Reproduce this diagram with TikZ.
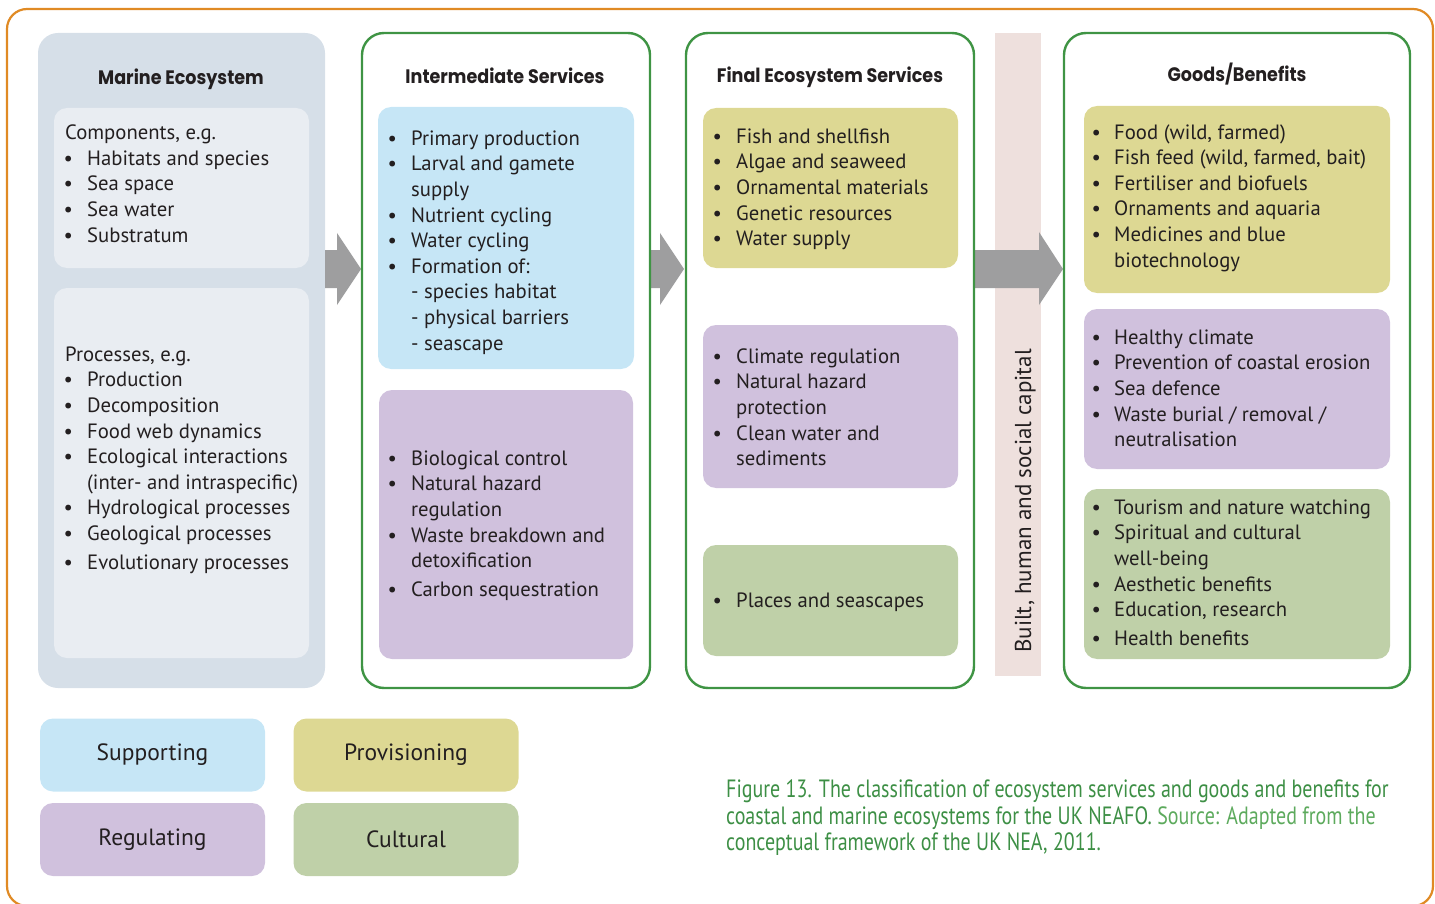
\documentclass[tikz,border=0pt]{standalone}
\usepackage{fontspec}
\setmainfont{PT Sans}
\newfontfamily\titlefont[FakeStretch=0.9]{Poppins}
\newfontfamily\capfont[FakeStretch=0.8]{PT Sans}
\definecolor{orng}{HTML}{E08A24}
\definecolor{grn}{HTML}{3F9444}
\definecolor{marout}{HTML}{D6DFE8}
\definecolor{marin}{HTML}{E9EDF2}
\definecolor{blu}{HTML}{C6E6F6}
\definecolor{purp}{HTML}{D0C1DD}
\definecolor{yel}{HTML}{DDD893}
\definecolor{gbox}{HTML}{BFD0A8}
\definecolor{pink}{HTML}{EEE0DD}
\definecolor{arr}{HTML}{9E9E9F}
\definecolor{capg}{HTML}{3D8F45}
\definecolor{capl}{HTML}{5DAA5D}
\definecolor{ink}{HTML}{231F20}
\newcommand\bodyfont{\fontsize{20.7}{25.6}\selectfont}
\newcommand\bi{\makebox[19pt][l]{\makebox[0pt][c]{\textbullet}}}
\newcommand\bj{\makebox[18pt][l]{\makebox[0pt][c]{\textbullet}}}
\newcommand\fl{\rule{0pt}{18pt}}
\tikzset{
  col/.style={draw=grn, line width=2.4pt, rounded corners=22pt},
  inbox/.style={rounded corners=13pt},
  txt/.style={anchor=north west, align=left, inner sep=0pt, font=\bodyfont, text=ink},
  ttl/.style={anchor=base, inner sep=0pt, font=\titlefont\bfseries\fontsize{19.5}{22}\selectfont, text=ink},
  legend/.style={rounded corners=13pt, minimum width=225pt, minimum height=73pt, inner sep=0pt, font=\fontsize{23.5}{28}\selectfont, text=ink},
  arrowshape/.style={fill=arr},
}
\begin{document}
\begin{tikzpicture}[x=1pt,y=-1pt]
\useasboundingbox (0,0) rectangle (1435,904);
% outer frame
\draw[orng, line width=2.2pt, rounded corners=20pt] (7,9) rectangle (1433,906);

% column 1: Marine ecosystem
\fill[marout, rounded corners=20pt] (38,33) rectangle (325,688);
\fill[marin, inbox] (54,108) rectangle (309,268);
\fill[marin, inbox] (54,288) rectangle (309,658);
\node[ttl] (t1) at (181,85) {Marine Ecosystem};
\node[txt] (c1a) at (68,139.5-18) {\fl\hspace*{-3pt}Components, e.g.\\
\bi Habitats and species\\ \bi Sea space\\ \bi Sea water\\ \bi Substratum};
\node[txt] (c1b) at (68,361-18) {\fl\hspace*{-3pt}Processes, e.g.\\
\bi Production\\ \bi Decomposition\\ \bi Food web dynamics\\ \bi Ecological interactions\\
\hspace*{19pt}(inter- and intraspecific)\\ \bi Hydrological processes\\ \bi Geological processes\\[3pt]
\bi Evolutionary processes};

% pink bar
\fill[pink] (995,33) rectangle (1041,676);
\node[anchor=base, rotate=90, inner sep=0pt, font=\fontsize{23}{26}\selectfont, text=ink] (cap) at (1031,501) {Built, human and social capital};

% arrows
\fill[arrowshape] (325,250) -- (337,250) -- (337,233) -- (361,269) -- (337,305) -- (337,288) -- (325,288) -- cycle;
\fill[arrowshape] (650,250) -- (660,250) -- (660,233) -- (684,269) -- (660,305) -- (660,288) -- (650,288) -- cycle;
\fill[arrowshape] (975,250) -- (1039,250) -- (1039,232) -- (1063,269) -- (1039,305) -- (1039,288) -- (975,288) -- cycle;

% column 2
\draw[col] (362,33) rectangle (650,688);
\fill[blu, inbox] (378,107) rectangle (634,369);
\fill[purp, inbox] (379,390) rectangle (633,659);
\node[ttl] (t2) at (505,84) {Intermediate Services};
\node[txt] (c2a) at (392,145-18) {\fl\bi Primary production\\ \bi Larval and gamete\\ \hspace*{19pt}supply\\
\bi Nutrient cycling\\ \bi Water cycling\\ \bi Formation of:\\ \hspace*{19pt}- species habitat\\
\hspace*{19pt}- physical barriers\\ \hspace*{19pt}- seascape};
\node[txt] (c2b) at (392,465-18) {\fl\bi Biological control\\ \bi Natural hazard\\ \hspace*{19pt}regulation\\
\bi Waste breakdown and\\ \hspace*{19pt}detoxification\\[3pt] \bi Carbon sequestration};

% column 3
\draw[col] (686,33) rectangle (974,688);
\fill[yel, inbox] (703,108) rectangle (958,268);
\fill[purp, inbox] (703,325) rectangle (958,488);
\fill[gbox, inbox] (703,545) rectangle (958,656);
\node[ttl] (t3) at (830,83) {Final Ecosystem Services};
\node[txt] (c3a) at (717,143-18) {\fl\bi Fish and shellfish\\ \bi Algae and seaweed\\ \bi Ornamental materials\\
\bi Genetic resources\\ \bi Water supply};
\node[txt] (c3b) at (717,363-18) {\fl\bi Climate regulation\\ \bi Natural hazard\\ \hspace*{19pt}protection\\
\bi Clean water and\\ \hspace*{19pt}sediments};
\node[txt] (c3c) at (717,607-18) {\fl\bi Places and seascapes};

% column 4
\draw[col] (1064,33) rectangle (1410,688);
\fill[yel, inbox] (1084,106) rectangle (1390,293);
\fill[purp, inbox] (1084,309) rectangle (1390,469);
\fill[gbox, inbox] (1084,489) rectangle (1390,659);
\node[ttl] (t4) at (1237,82) {Goods/Benefits};
\node[txt] (c4a) at (1096,139-18) {\fl\bj Food (wild, farmed)\\ \bj Fish feed (wild, farmed, bait)\\
\bj Fertiliser and biofuels\\ \bj Ornaments and aquaria\\ \bj Medicines and blue\\ \hspace*{18pt}biotechnology};
\node[txt] (c4b) at (1096,344-18) {\fl\bj Healthy climate\\ \bj Prevention of coastal erosion\\ \bj Sea defence\\
\bj Waste burial / removal /\\ \hspace*{18pt}neutralisation};
\node[txt] (c4c) at (1096,514-18) {\fl\bj Tourism and nature watching\\ \bj Spiritual and cultural\\ \hspace*{18pt}well-being\\
\bj Aesthetic benefits\\ \bj Education, research\\[3pt] \bj Health benefits};

% legend
\node[legend, fill=blu] (lsup) at (152.5,755) {Supporting};
\node[legend, fill=yel] (lprov) at (406,755) {Provisioning};
\node[legend, fill=purp] (lreg) at (152.5,839.5) {Regulating};
\node[legend, fill=gbox] (lcul) at (406,839.5) {Cultural};

% caption
\node[anchor=north west, align=left, inner sep=0pt, font=\capfont\fontsize{25}{26.8}\selectfont, text=capg] (capt) at (726,797-20)
{\rule{0pt}{20pt}Figure 13. The classification of ecosystem services and goods and benefits for\\
coastal and marine ecosystems for the UK NEAFO. \color{capl}Source: Adapted from the\\
conceptual framework of the UK NEA, 2011.};
\end{tikzpicture}
\end{document}
